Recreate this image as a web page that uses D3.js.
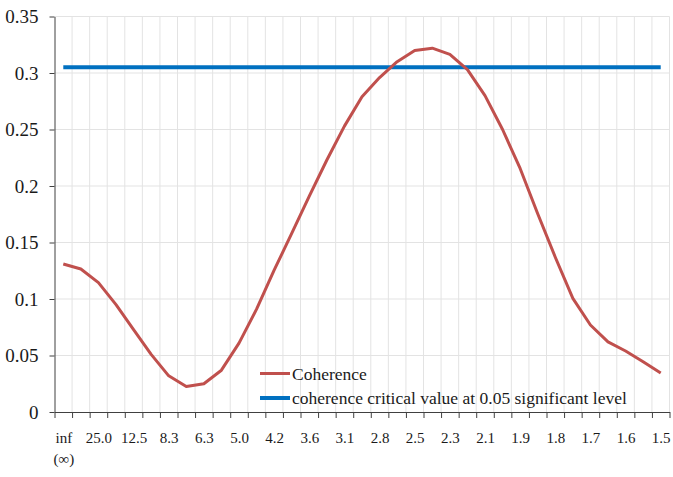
<!DOCTYPE html>
<html>
<head>
<meta charset="utf-8">
<script src="https://cdn.jsdelivr.net/npm/d3@7"></script>
<style>
  html, body { margin: 0; padding: 0; background: #fff; }
  svg { display: block; }
  svg text { font-family: "Liberation Serif", "Times New Roman", serif; }
</style>
</head>
<body>
<svg id="chart" width="673" height="477"></svg>
<script>
// Period (years) for each frequency bin
const periods = ["inf", "50.0", "25.0", "16.7", "12.5", "10.0", "8.3", "7.1", "6.3", "5.6",
                 "5.0", "4.5", "4.2", "3.8", "3.6", "3.3", "3.1", "2.9", "2.8", "2.6",
                 "2.5", "2.4", "2.3", "2.2", "2.1", "2.0", "1.9", "1.9", "1.8", "1.7",
                 "1.7", "1.6", "1.6", "1.5", "1.5"];
// Tick labels shown on the x axis (every second bin)
const xTickLabels = ["inf", "25.0", "12.5", "8.3", "6.3", "5.0", "4.2", "3.6", "3.1",
                     "2.8", "2.5", "2.3", "2.1", "1.9", "1.8", "1.7", "1.6", "1.5"];
// Squared coherence per bin
const coherence = [0.131, 0.1265, 0.1145, 0.095, 0.073, 0.051, 0.032, 0.0225, 0.025, 0.037,
                   0.061, 0.091, 0.1255, 0.158, 0.191, 0.223, 0.253, 0.279, 0.296, 0.310,
                   0.320, 0.322, 0.3165, 0.303, 0.280, 0.250, 0.2155, 0.1755, 0.137, 0.1005,
                   0.077, 0.062, 0.054, 0.0445, 0.0345];
// Critical value at the 0.05 significance level
const criticalValue = periods.map(() => 0.305);
const yTicks = [0, 0.05, 0.1, 0.15, 0.2, 0.25, 0.3, 0.35];
const yTickLabels = ["0", "0.05", "0.1", "0.15", "0.2", "0.25", "0.3", "0.35"];
const seriesNames = ["Coherence", "coherence critical value at 0.05 significant level"];
const seriesColors = ["#C0504D", "#0070C0"];

(function draw() {
  const svg = d3.select("#chart");
  const plotL = 54.5, plotR = 669.5, plotT = 16.5, plotB = 412;
  const n = periods.length;
  const serif = "'Liberation Serif', 'Times New Roman', serif";

  // Bin boundaries on a linear scale; points sit at bin centres
  const xb = d3.scaleLinear().domain([0, n]).range([plotL, plotR]);
  const xc = i => xb(i + 0.5);
  const y = d3.scaleLinear().domain([0, 0.35]).range([plotB, plotT]);

  // Grid
  const grid = svg.append("g");
  grid.selectAll("line.v").data(d3.range(1, n + 1)).join("line")
    .attr("x1", d => xb(d)).attr("x2", d => xb(d))
    .attr("y1", plotT).attr("y2", plotB)
    .attr("stroke", "#e3e3e3").attr("stroke-width", 1);
  grid.selectAll("line.h").data(yTicks.slice(1)).join("line")
    .attr("x1", plotL).attr("x2", plotR)
    .attr("y1", d => y(d)).attr("y2", d => y(d))
    .attr("stroke", "#e3e3e3").attr("stroke-width", 1.2);

  // Y axis
  const yAxis = svg.append("g").attr("transform", `translate(${plotL},0)`)
    .call(d3.axisLeft(y).tickValues(yTicks)
      .tickFormat((d, i) => yTickLabels[i]).tickSize(5).tickSizeOuter(0).tickPadding(11));
  yAxis.attr("font-family", null).attr("font-size", null);
  yAxis.select(".domain").attr("stroke", "#404040");
  yAxis.selectAll(".tick line").attr("stroke", "#404040");
  yAxis.selectAll(".tick text").style("font-size", "19px").style("font-family", serif)
    .attr("fill", "#1a1a1a");

  // X axis: tick marks at bin boundaries
  const xAxis = svg.append("g").attr("transform", `translate(0,${plotB})`)
    .call(d3.axisBottom(xb).tickValues(d3.range(0, n + 1)).tickFormat("").tickSize(6).tickSizeOuter(0));
  xAxis.select(".domain").attr("stroke", "#404040");
  xAxis.selectAll(".tick line").attr("stroke", "#404040");

  // X axis labels at every second bin centre
  const xLab = svg.append("g").attr("transform", `translate(0,${plotB})`)
    .call(d3.axisBottom(xb).tickValues(d3.range(0, n, 2).map(i => i + 0.5))
      .tickFormat((d, i) => xTickLabels[i]).tickSize(0).tickPadding(20));
  xLab.attr("font-family", null).attr("font-size", null);
  xLab.select(".domain").remove();
  xLab.selectAll(".tick text").style("font-size", "15px").style("font-family", serif)
    .attr("fill", "#1a1a1a");
  // First label carries a second line
  xLab.selectAll(".tick text").filter((d, i) => i === 0).each(function () {
    d3.select(this).append("tspan").attr("x", 0).attr("dy", "1.4em").text("(∞)");
  });

  // Series lines
  const line = d3.line().x((d, i) => xc(i)).y(d => y(d));
  svg.append("path").datum(criticalValue).attr("d", line)
    .attr("fill", "none").attr("stroke", seriesColors[1]).attr("stroke-width", 4);
  svg.append("path").datum(coherence).attr("d", line)
    .attr("fill", "none").attr("stroke", seriesColors[0]).attr("stroke-width", 3)
    .attr("stroke-linejoin", "round");

  // Legend
  const legend = svg.append("g").attr("transform", "translate(260,373.5)");
  seriesNames.forEach((name, i) => {
    const g = legend.append("g").attr("transform", `translate(0,${i * 24.5})`);
    g.append("line").attr("x1", 0).attr("x2", 30).attr("y1", 0).attr("y2", 0)
      .attr("stroke", seriesColors[i]).attr("stroke-width", i === 0 ? 3 : 4);
    g.append("text").attr("x", 32).attr("y", 6)
      .style("font-size", "17.5px").style("font-family", serif)
      .attr("fill", "#1a1a1a").text(name);
  });
})();
</script>
</body>
</html>
